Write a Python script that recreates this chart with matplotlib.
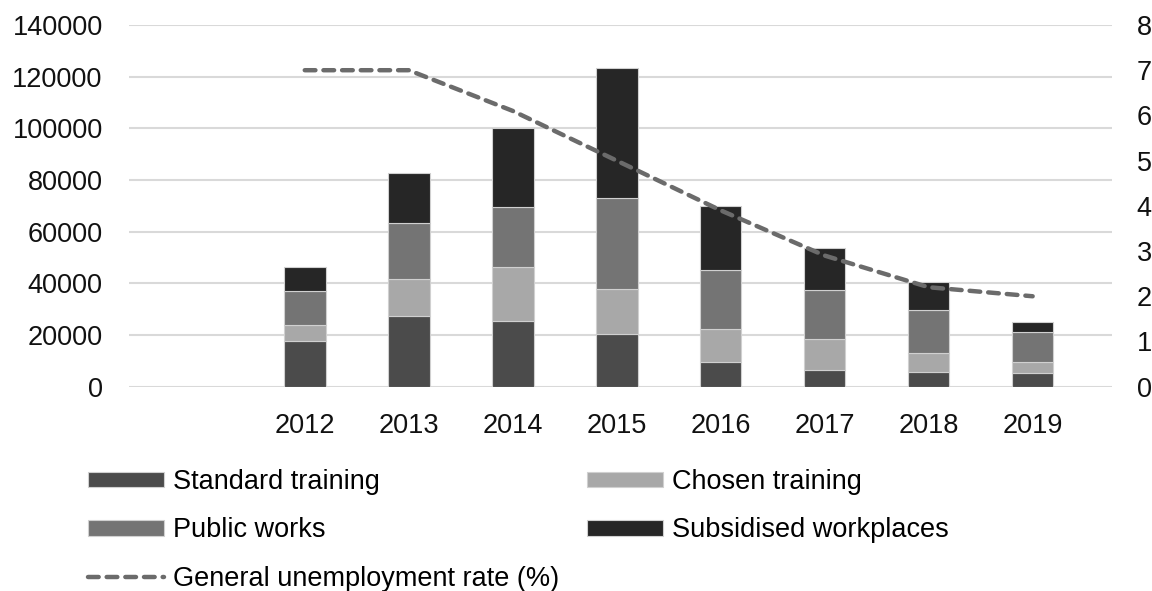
import numpy as np
import matplotlib
matplotlib.use("Agg")
import matplotlib.pyplot as plt
from matplotlib.patches import Patch
from matplotlib.lines import Line2D

plt.rcParams['font.family'] = ['Liberation Sans', 'DejaVu Sans']

years = ['2012', '2013', '2014', '2015', '2016', '2017', '2018', '2019']
standard_training = [17500, 27500, 25500, 20300, 9500, 6500, 5700, 5200]
chosen_training = [6500, 14000, 21000, 17700, 13000, 12000, 7500, 4400]
public_works = [13000, 22000, 23000, 35200, 22700, 19000, 16300, 11600]
subsidised_workplaces = [9500, 19300, 30500, 50000, 24700, 16000, 11000, 4000]
unemployment_rate = [7.0, 7.0, 6.1, 5.0, 3.9, 2.9, 2.2, 2.0]

series = [
    ('Standard training', standard_training, '#4b4b4b'),
    ('Chosen training', chosen_training, '#a8a8a8'),
    ('Public works', public_works, '#747474'),
    ('Subsidised workplaces', subsidised_workplaces, '#262626'),
]
line_col = '#6b6b6b'
fs = 19.5

fig = plt.figure(figsize=(11.52, 5.91), dpi=100)
ax = fig.add_axes([0.112, 0.3457, 0.853, 0.612])
x = np.arange(len(years))

bottom = np.zeros(len(years))
for name, vals, col in series:
    ax.bar(x, vals, 0.4, bottom=bottom, color=col, edgecolor='#d0d0d0',
           linewidth=0.8, zorder=2)
    bottom += np.array(vals)

ax.set_ylim(0, 140000)
ax.set_yticks(np.arange(0, 140001, 20000))
ax.set_xlim(-1.69, 7.76)
ax.set_xticks(x)
ax.set_xticklabels(years)
ax.grid(axis='y', color='#d9d9d9', linewidth=1.5, zorder=0)
ax.tick_params(axis='both', length=0, labelsize=fs, colors='#111111')
ax.tick_params(axis='y', pad=19)
ax.tick_params(axis='x', pad=19)
for s in ax.spines.values():
    s.set_visible(False)

# unemployment rate on the right axis
ax2 = ax.twinx()
ax2.plot(x, unemployment_rate, color=line_col, linewidth=3.2,
         linestyle=(0, (2.4, 1.8)), dash_capstyle='round', zorder=3)
ax2.set_ylim(0, 8)
ax2.set_yticks(range(0, 9))
ax2.tick_params(axis='y', length=0, labelsize=fs, colors='#111111', pad=18)
for s in ax2.spines.values():
    s.set_visible(False)

h = {name: Patch(facecolor=col, edgecolor='#d0d0d0', linewidth=0.8)
     for name, vals, col in series}
line_h = Line2D([], [], color=line_col, linewidth=3.2,
                linestyle=(0, (2.4, 1.8)), dash_capstyle='round')

leg_kw = dict(loc='upper left', frameon=False, fontsize=fs, borderpad=0,
              borderaxespad=0, handlelength=2.8, handleheight=0.5,
              handletextpad=0.35, labelspacing=0.82)
fig.legend([h['Standard training'], h['Public works'], line_h],
           ['Standard training', 'Public works', 'General unemployment rate (%)'],
           bbox_to_anchor=(0.0764, 0.206), **leg_kw)
fig.legend([h['Chosen training'], h['Subsidised workplaces']],
           ['Chosen training', 'Subsidised workplaces'],
           bbox_to_anchor=(0.5095, 0.206), **leg_kw)

fig.savefig('out.png', dpi=100)
